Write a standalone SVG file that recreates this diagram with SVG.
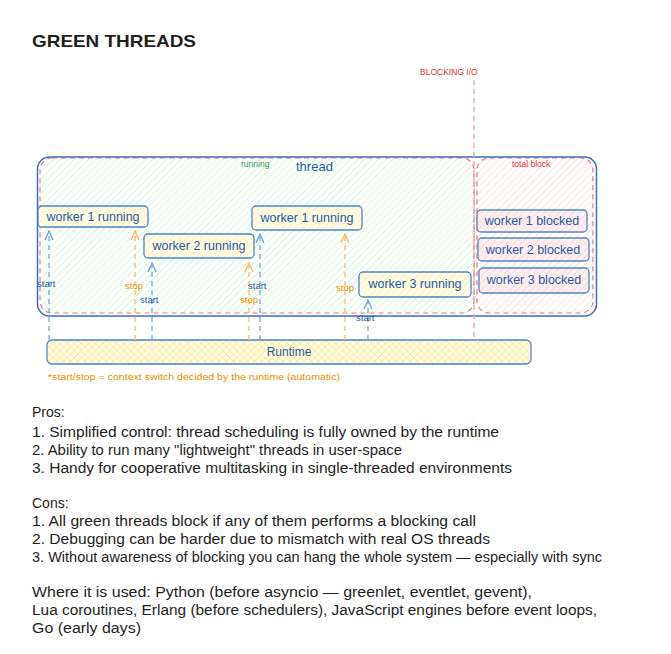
<svg xmlns="http://www.w3.org/2000/svg" width="671" height="654" viewBox="0 0 671 654">
<defs>
<pattern id="hGreen" patternUnits="userSpaceOnUse" width="5" height="5" patternTransform="rotate(45)"><line x1="0" y1="0" x2="0" y2="5" stroke="#b2f2bb" stroke-width="1.2"/></pattern>
<pattern id="hRed" patternUnits="userSpaceOnUse" width="5" height="5" patternTransform="rotate(45)"><line x1="0" y1="0" x2="0" y2="5" stroke="#ffc9c9" stroke-width="1.2"/></pattern>
<pattern id="hYellow" patternUnits="userSpaceOnUse" width="5" height="5" patternTransform="rotate(45)"><rect width="5" height="5" fill="#fffbe6"/><line x1="0" y1="0" x2="0" y2="5" stroke="#ffe066" stroke-width="1"/><line x1="0" y1="0" x2="5" y2="0" stroke="#ffe066" stroke-width="1"/></pattern>
<pattern id="hYellowW" patternUnits="userSpaceOnUse" width="5" height="5" patternTransform="rotate(45)"><rect width="5" height="5" fill="#fffbe6"/><line x1="0" y1="0" x2="0" y2="5" stroke="#ffec99" stroke-width="1.2"/></pattern>
<pattern id="hRedW" patternUnits="userSpaceOnUse" width="5" height="5" patternTransform="rotate(45)"><rect width="5" height="5" fill="#fff0f0"/><line x1="0" y1="0" x2="0" y2="5" stroke="#ffc9c9" stroke-width="1.2"/></pattern>
<marker id="arrB" viewBox="0 0 12 12" refX="11" refY="6" markerWidth="12" markerHeight="12" orient="auto" markerUnits="userSpaceOnUse"><path d="M2 2 L11 6 L2 10" fill="none" stroke="#6fa3dc" stroke-width="1.3"/></marker>
<marker id="arrO" viewBox="0 0 12 12" refX="11" refY="6" markerWidth="12" markerHeight="12" orient="auto" markerUnits="userSpaceOnUse"><path d="M2 2 L11 6 L2 10" fill="none" stroke="#ffb860" stroke-width="1.3"/></marker>
</defs>
<style>
text{font-family:"Liberation Sans",Arial,sans-serif}
.w{fill:url(#hYellowW);stroke:#4a86c8;stroke-width:1.3}
.wt{fill:#1e5aa8;font-size:12.5px;text-anchor:middle}
.b{fill:url(#hRedW);stroke:#4a86c8;stroke-width:1.3}
.blue{stroke:#74a9e0;stroke-width:1.3;stroke-dasharray:5 4;fill:none}
.orng{stroke:#ffc078;stroke-width:1.5;stroke-dasharray:5 4;fill:none}
.lblB{fill:#1e5aa8;font-size:9.5px}
.lblO{fill:#f08c00;font-size:9.5px}
.body{fill:#1e1e1e;font-size:14px}
</style>
<rect width="671" height="654" fill="#ffffff"/>
<text x="32" y="47" font-size="17" font-weight="bold" fill="#1e1e1e" textLength="164" lengthAdjust="spacingAndGlyphs">GREEN THREADS</text>

<g id="thread">
<rect x="40" y="158" width="436" height="155" rx="12" fill="url(#hGreen)"/>
<rect x="476" y="158" width="117" height="155" rx="12" fill="url(#hRed)"/>
<rect x="40" y="158" width="434" height="155" rx="12" fill="none" stroke="#ec7a7a" stroke-width="1.2" stroke-dasharray="5 4"/>
<rect x="477" y="158" width="116" height="155" rx="12" fill="none" stroke="#ec7a7a" stroke-width="1.2" stroke-dasharray="5 4"/>
<rect x="37.5" y="157" width="559" height="159" rx="12" fill="none" stroke="#3b6fc0" stroke-width="1.5"/>
<text x="296" y="171" font-size="13" fill="#1e5aa8">thread</text>
<text x="241" y="167" font-size="8.5" fill="#2f9e44">running</text>
<text x="512" y="167" font-size="8.5" fill="#e03131">total block</text>
</g>

<g id="blocking-io">
<line x1="474" y1="80" x2="474" y2="340" stroke="#f4a0a0" stroke-width="1.3" stroke-dasharray="5 4"/>
<text x="420" y="75" font-size="8.5" fill="#e03131">BLOCKING I/O</text>
</g>

<g id="w1a"><rect class="w" x="38" y="206" width="110" height="21" rx="4"/><text class="wt" x="93" y="221">worker 1 running</text></g>
<g id="w2"><rect class="w" x="144" y="234" width="110" height="24" rx="4"/><text class="wt" x="199" y="250">worker 2 running</text></g>
<g id="w1b"><rect class="w" x="252" y="206" width="110" height="24" rx="4"/><text class="wt" x="307" y="222">worker 1 running</text></g>
<g id="w3"><rect class="w" x="359" y="272" width="112" height="25" rx="4"/><text class="wt" x="415" y="288">worker 3 running</text></g>
<g id="b1"><rect class="b" x="477" y="210" width="110" height="22" rx="4"/><text class="wt" x="532" y="225">worker 1 blocked</text></g>
<g id="b2"><rect class="b" x="478" y="238" width="111" height="23" rx="4"/><text class="wt" x="533" y="254">worker 2 blocked</text></g>
<g id="b3"><rect class="b" x="479" y="268" width="110" height="25" rx="4"/><text class="wt" x="534" y="284">worker 3 blocked</text></g>

<g id="runtime">
<rect x="47" y="340" width="484" height="24" rx="5" fill="url(#hYellow)" stroke="#4a86c8" stroke-width="1.3"/>
<text x="289" y="356" font-size="12" fill="#1e5aa8" text-anchor="middle">Runtime</text>
</g>

<g id="connectors">
<line class="blue" x1="49" y1="340" x2="49" y2="231" marker-end="url(#arrB)"/>
<line class="orng" x1="135" y1="340" x2="135" y2="231" marker-end="url(#arrO)"/>
<line class="blue" x1="152" y1="340" x2="152" y2="263" marker-end="url(#arrB)"/>
<line class="orng" x1="249" y1="340" x2="249" y2="263" marker-end="url(#arrO)"/>
<line class="blue" x1="260" y1="340" x2="260" y2="234" marker-end="url(#arrB)"/>
<line class="orng" x1="345" y1="340" x2="345" y2="234" marker-end="url(#arrO)"/>
<line class="blue" x1="368" y1="340" x2="368" y2="300" marker-end="url(#arrB)"/>
<text class="lblB" x="37" y="287">start</text>
<text class="lblO" x="125" y="289">stop</text>
<text class="lblB" x="140" y="303">start</text>
<text class="lblO" x="240" y="303">stop</text>
<text class="lblB" x="248" y="289">start</text>
<text class="lblO" x="336" y="291">stop</text>
<text class="lblB" x="356" y="321">start</text>
</g>

<text x="48" y="380" font-size="8.5" fill="#f08c00" textLength="292" lengthAdjust="spacingAndGlyphs">*start/stop = context switch decided by the runtime (automatic)</text>

<g id="notes">
<text class="body" x="32" y="417">Pros:</text>
<text class="body" x="32" y="437" textLength="467" lengthAdjust="spacingAndGlyphs">1. Simplified control: thread scheduling is fully owned by the runtime</text>
<text class="body" x="32" y="455" textLength="370" lengthAdjust="spacingAndGlyphs">2. Ability to run many "lightweight" threads in user-space</text>
<text class="body" x="32" y="473" textLength="480" lengthAdjust="spacingAndGlyphs">3. Handy for cooperative multitasking in single-threaded environments</text>
<text class="body" x="32" y="508">Cons:</text>
<text class="body" x="32" y="526" textLength="444" lengthAdjust="spacingAndGlyphs">1. All green threads block if any of them performs a blocking call</text>
<text class="body" x="32" y="544" textLength="458" lengthAdjust="spacingAndGlyphs">2. Debugging can be harder due to mismatch with real OS threads</text>
<text class="body" x="32" y="562" textLength="570" lengthAdjust="spacingAndGlyphs">3. Without awareness of blocking you can hang the whole system — especially with sync</text>
<text class="body" x="32" y="597" textLength="500" lengthAdjust="spacingAndGlyphs">Where it is used: Python (before asyncio — greenlet, eventlet, gevent),</text>
<text class="body" x="32" y="615" textLength="565" lengthAdjust="spacingAndGlyphs">Lua coroutines, Erlang (before schedulers), JavaScript engines before event loops,</text>
<text class="body" x="32" y="633" textLength="109" lengthAdjust="spacingAndGlyphs">Go (early days)</text>
</g>
</svg>
